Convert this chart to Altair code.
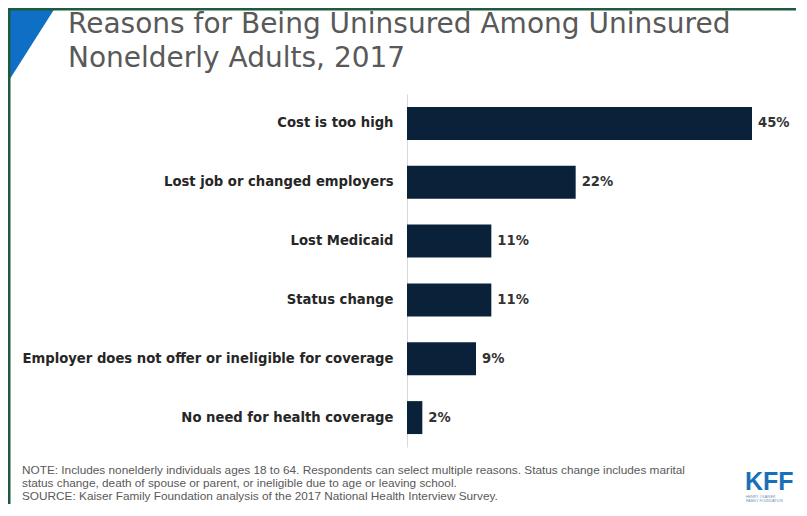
import altair as alt
import pandas as pd

# ---- data ----
reasons = [
    "Cost is too high",
    "Lost job or changed employers",
    "Lost Medicaid",
    "Status change",
    "Employer does not offer or ineligible for coverage",
    "No need for health coverage",
]
shares = [45, 22, 11, 11, 9, 2]
title_lines = ["Reasons for Being Uninsured Among Uninsured", "Nonelderly Adults, 2017"]
note_lines = [
    "NOTE: Includes nonelderly individuals ages 18 to 64. Respondents can select multiple reasons. Status change includes marital",
    "status change, death of spouse or parent, or ineligible due to age or leaving school.",
    "SOURCE: Kaiser Family Foundation analysis of the 2017 National Health Interview Survey.",
]
logo_text = "KFF"
logo_sub = ["HENRY J KAISER", "FAMILY FOUNDATION"]

df = pd.DataFrame({"reason": reasons, "share": shares})
df["label"] = [f"{v}%" for v in shares]

# ---- layout ----
W, H = 345, 353
PL, PT = 399, 86
TOTAL_W, TOTAL_H = 788, 496

one = alt.Data(values=[{"k": 1}])

y_enc = alt.Y(
    "reason:N",
    sort=reasons,
    scale=alt.Scale(paddingInner=0.44, paddingOuter=0.22),
    axis=alt.Axis(
        title=None,
        ticks=False,
        domainColor="#d9d9d9",
        domainWidth=1,
        labelFont="DejaVu Sans",
        labelFontWeight="bold",
        labelFontSize=13.2,
        labelColor="#262626",
        labelPadding=14,
        labelLimit=400,
    ),
)
x_enc = alt.X("share:Q", scale=alt.Scale(domain=[0, 45], nice=False, zero=True), axis=None)

bars = alt.Chart(df).mark_bar(color="#0a2239").encode(x=x_enc, y=y_enc)
values = alt.Chart(df).mark_text(
    align="left", baseline="middle", dx=6,
    font="DejaVu Sans", fontWeight="bold", fontSize=13.2, color="#333333",
).encode(x=x_enc, y=alt.Y("reason:N", sort=reasons), text="label:N")

triangle = alt.Chart(one).mark_point(
    shape="M0,0L1.27,0L0,2Z", size=5476, filled=True, color="#0f6fc5",
    opacity=1, strokeWidth=0,
).encode(x=alt.value(-PL), y=alt.value(-PT))

border_top = alt.Chart(one).mark_rect(color="#1d5a3e").encode(
    x=alt.value(-PL), x2=alt.value(TOTAL_W - PL), y=alt.value(-PT), y2=alt.value(-PT + 2.5)
)
border_left = alt.Chart(one).mark_rect(color="#1d5a3e").encode(
    x=alt.value(-PL), x2=alt.value(-PL + 2.5), y=alt.value(-PT), y2=alt.value(TOTAL_H - PT)
)

title = alt.Chart(one).mark_text(
    align="left", baseline="alphabetic", font="DejaVu Sans", fontSize=28,
    color="#595959", lineHeight=33.4,
).encode(x=alt.value(68 - 8 - PL), y=alt.value(33.3 - 8 - PT), text=alt.value(title_lines))

note = alt.Chart(one).mark_text(
    align="left", baseline="alphabetic", font="Liberation Sans", fontSize=11.8,
    color="#595959", lineHeight=13,
).encode(x=alt.value(22 - 8 - PL), y=alt.value(474 - 8 - PT), text=alt.value(note_lines))

logo = alt.Chart(one).mark_text(
    align="left", baseline="alphabetic", font="Liberation Sans", fontWeight="bold",
    fontSize=25, color="#1a70b8",
).encode(x=alt.value(745 - 8 - PL), y=alt.value(490 - 8 - PT), text=alt.value(logo_text))

logo_small = alt.Chart(one).mark_text(
    align="left", baseline="alphabetic", font="Liberation Sans", fontSize=3.6,
    color="#6d8fb0", lineHeight=4,
).encode(x=alt.value(746 - 8 - PL), y=alt.value(498 - 8 - PT), text=alt.value(logo_sub))

chart = alt.layer(
    triangle, title, bars, values, note, logo, logo_small, border_top, border_left
).properties(
    width=W,
    height=H,
    padding={"left": PL, "top": PT, "right": TOTAL_W - PL - W, "bottom": TOTAL_H - PT - H},
    autosize=alt.AutoSizeParams(type="none"),
    background="white",
).configure_view(stroke=None)

chart.save("out.html", embed_options={"renderer": "svg", "actions": False})
